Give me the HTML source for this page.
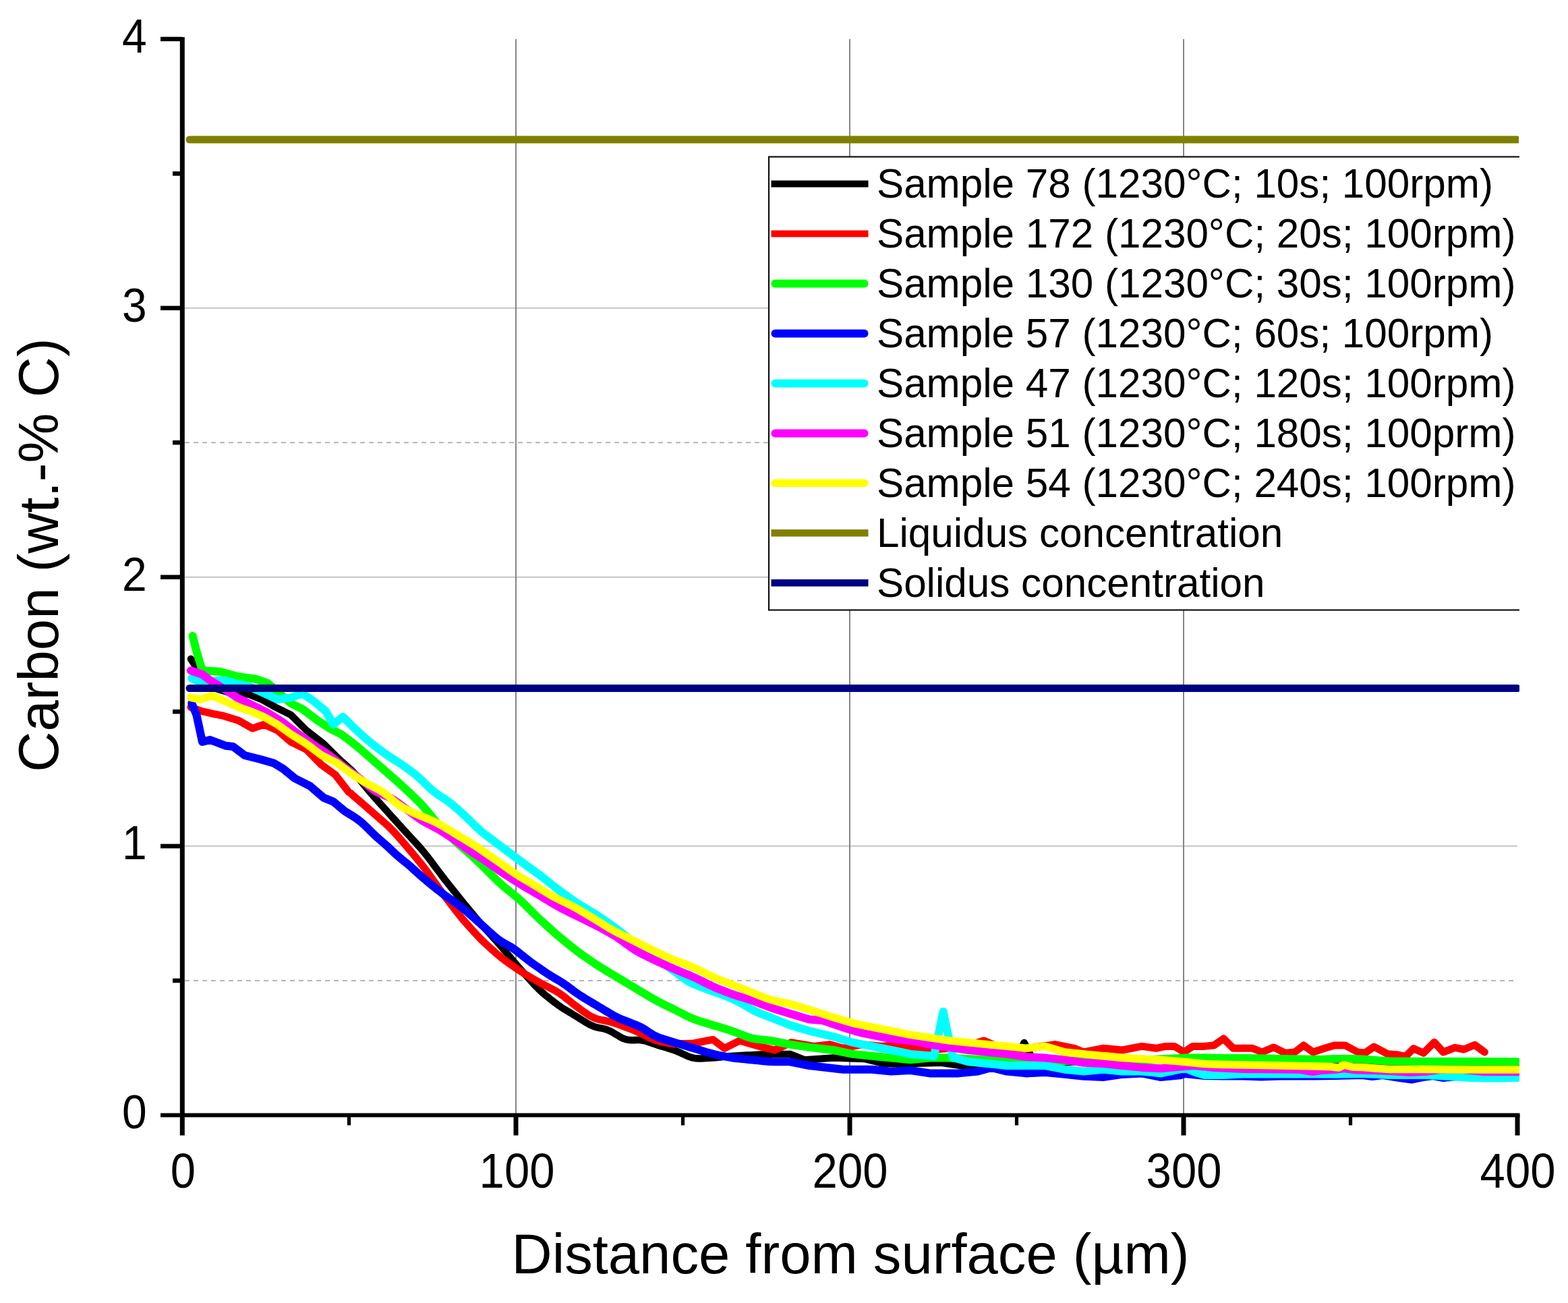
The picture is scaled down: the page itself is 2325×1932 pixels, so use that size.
<!DOCTYPE html>
<html><head><meta charset="utf-8"><title>Carbon profile</title>
<style>
html,body{margin:0;padding:0;background:#fff;}
svg{display:block;}
text{font-family:"Liberation Sans",Arial,sans-serif;fill:#000;}
</style></head><body>
<svg width="2325" height="1932" viewBox="0 0 2325 1932">
<rect width="2325" height="1932" fill="#fff"/>

<g fill="none">
<line x1="274" y1="1454.0" x2="2250" y2="1454.0" stroke="#b4b4b4" stroke-width="2" stroke-dasharray="7 6"/>
<line x1="274" y1="656.2" x2="2250" y2="656.2" stroke="#b4b4b4" stroke-width="2" stroke-dasharray="7 6"/>
<line x1="274" y1="1254.6" x2="2250" y2="1254.6" stroke="#c4c4c4" stroke-width="2"/>
<line x1="274" y1="855.7" x2="2250" y2="855.7" stroke="#c4c4c4" stroke-width="2"/>
<line x1="274" y1="456.8" x2="2250" y2="456.8" stroke="#c4c4c4" stroke-width="2"/>
<line x1="765.0" y1="58" x2="765.0" y2="1651" stroke="#858585" stroke-width="2"/>
<line x1="1260.0" y1="58" x2="1260.0" y2="1651" stroke="#858585" stroke-width="2"/>
<line x1="1755.0" y1="58" x2="1755.0" y2="1651" stroke="#858585" stroke-width="2"/>
</g>
<line x1="281" y1="207" x2="2250" y2="207" stroke="#808000" stroke-width="11" stroke-linecap="round"/>
<rect x="2252" y="200" width="8" height="15" fill="#fff"/>
<rect x="1140" y="232.5" width="1120" height="672" fill="#fff" stroke="#111" stroke-width="2.2"/>
<rect x="1143.5" y="267.60" width="144" height="10" rx="0" fill="#000000"/>
<text x="1300" y="292.8" font-size="60.2">Sample 78 (1230°C; 10s; 100rpm)</text>
<rect x="1143.5" y="341.56" width="144" height="10" rx="0" fill="#ff0000"/>
<text x="1300" y="366.8" font-size="60.2">Sample 172 (1230°C; 20s; 100rpm)</text>
<rect x="1143.5" y="414.52" width="144" height="12" rx="6.0" fill="#00ff00"/>
<text x="1300" y="440.7" font-size="60.2">Sample 130 (1230°C; 30s; 100rpm)</text>
<rect x="1143.5" y="488.48" width="144" height="12" rx="6.0" fill="#0000ff"/>
<text x="1300" y="514.7" font-size="60.2">Sample 57 (1230°C; 60s; 100rpm)</text>
<rect x="1143.5" y="562.44" width="144" height="12" rx="6.0" fill="#00ffff"/>
<text x="1300" y="588.6" font-size="60.2">Sample 47 (1230°C; 120s; 100rpm)</text>
<rect x="1143.5" y="636.40" width="144" height="12" rx="6.0" fill="#ff00ff"/>
<text x="1300" y="662.6" font-size="60.2">Sample 51 (1230°C; 180s; 100prm)</text>
<rect x="1143.5" y="710.61" width="144" height="11.5" rx="5.75" fill="#ffff00"/>
<text x="1300" y="736.6" font-size="60.2">Sample 54 (1230°C; 240s; 100rpm)</text>
<rect x="1143.5" y="785.07" width="144" height="10.5" rx="0" fill="#808000"/>
<text x="1300" y="810.5" font-size="60.2">Liquidus concentration</text>
<rect x="1143.5" y="859.03" width="144" height="10.5" rx="0" fill="#000080"/>
<text x="1300" y="884.5" font-size="60.2">Solidus concentration</text>
<g fill="none" stroke-linejoin="round" stroke-linecap="round">
<polyline points="282.9,977.0 288.6,985.7 297.0,997.0 317.0,1020.0 345.7,1028.6 368.6,1029.5 388.6,1037.5 408.6,1048.6 431.4,1060.0 454.3,1082.9 480.0,1102.9 502.9,1125.7 520.0,1140.9 524.0,1145.0 528.0,1149.5 532.0,1154.3 536.0,1159.3 540.0,1164.2 544.0,1169.0 548.0,1173.8 552.0,1178.4 556.0,1182.9 560.0,1187.4 564.0,1191.9 568.0,1196.3 572.0,1200.8 576.0,1205.2 580.0,1209.7 584.0,1214.1 588.0,1218.6 592.0,1223.0 596.0,1227.4 600.0,1231.8 604.0,1236.2 608.0,1240.5 612.0,1244.9 616.0,1249.2 620.0,1253.6 624.0,1258.1 628.0,1262.8 632.0,1267.7 636.0,1272.9 640.0,1278.2 644.0,1283.6 648.0,1288.9 652.0,1294.2 656.0,1299.5 660.0,1304.7 664.0,1309.8 668.0,1314.8 672.0,1319.8 676.0,1324.8 680.0,1329.8 684.0,1334.8 688.0,1339.7 692.0,1344.6 696.0,1349.4 700.0,1354.2 704.0,1359.0 708.0,1363.8 712.0,1368.5 716.0,1373.1 720.0,1377.6 724.0,1382.1 728.0,1386.5 732.0,1390.9 736.0,1395.3 740.0,1399.8 744.0,1404.4 748.0,1409.1 752.0,1413.8 756.0,1418.6 760.0,1423.4 764.0,1428.1 768.0,1432.8 772.0,1437.5 776.0,1442.0 780.0,1446.5 784.0,1450.9 788.0,1455.3 792.0,1459.8 796.0,1463.9 800.0,1467.9 804.0,1471.5 808.0,1475.0 812.0,1478.2 816.0,1481.4 820.0,1484.5 824.0,1487.6 828.0,1490.5 832.0,1493.3 836.0,1495.9 840.0,1498.3 844.0,1500.7 848.0,1503.1 852.0,1505.6 856.0,1508.0 860.0,1510.5 864.0,1513.0 868.0,1515.4 872.0,1517.9 876.0,1520.0 880.0,1521.7 884.0,1523.1 888.0,1524.0 892.0,1524.6 896.0,1525.5 900.0,1526.8 904.0,1528.5 908.0,1530.5 912.0,1532.9 916.0,1535.3 920.0,1537.7 924.0,1539.7 928.0,1541.1 932.0,1542.0 936.0,1542.3 940.0,1542.2 944.0,1541.9 948.0,1542.1 952.0,1542.5 956.0,1543.3 960.0,1544.5 964.0,1545.9 968.0,1547.3 972.0,1548.6 976.0,1549.9 980.0,1551.1 984.0,1552.3 988.0,1553.5 992.0,1554.7 996.0,1556.0 1000.0,1557.4 1004.0,1558.9 1008.0,1560.6 1012.0,1562.5 1016.0,1564.3 1020.0,1566.1 1024.0,1567.6 1028.0,1568.6 1032.0,1569.3 1036.0,1569.6 1040.0,1569.4 1044.0,1569.2 1048.0,1569.0 1052.0,1568.8 1056.0,1568.5 1060.0,1568.2 1064.0,1567.9 1068.0,1567.5 1072.0,1567.1 1076.0,1566.7 1080.0,1566.3 1084.0,1566.0 1088.0,1565.7 1092.0,1565.4 1096.0,1565.2 1100.0,1565.0 1104.0,1564.8 1108.0,1564.6 1112.0,1564.4 1116.0,1564.2 1120.0,1564.0 1124.0,1563.8 1128.0,1563.6 1132.0,1563.4 1136.0,1563.2 1140.0,1563.1 1144.0,1563.0 1148.0,1562.9 1171.4,1562.9 1192.9,1571.4 1235.7,1568.6 1281.4,1570.0 1310.0,1577.0 1350.0,1577.0 1395.7,1575.7 1424.3,1580.0 1470.0,1578.0 1505.0,1572.0 1518.6,1546.0 1532.0,1572.0 1580.0,1575.0 1650.0,1572.0 1720.0,1570.0 1783.0,1571.0 1850.0,1573.0 1950.0,1575.0 2044.0,1575.0 2067.0,1577.0 2107.0,1576.5 2144.0,1576.5 2200.0,1576.0 2250.0,1576.0" stroke="#000" stroke-width="10.5"/>
<polyline points="282.9,1048.6 297.0,1054.0 317.0,1058.6 331.4,1061.4 354.3,1068.6 374.3,1080.0 391.4,1074.3 411.4,1082.9 431.4,1100.0 454.3,1111.4 477.0,1134.3 497.0,1148.6 517.0,1174.3 520.0,1176.2 524.0,1180.0 528.0,1183.4 532.0,1186.8 536.0,1190.2 540.0,1193.6 544.0,1197.1 548.0,1200.7 552.0,1204.2 556.0,1207.7 560.0,1211.2 564.0,1214.7 568.0,1218.2 572.0,1221.6 576.0,1225.3 580.0,1229.2 584.0,1233.4 588.0,1237.7 592.0,1242.3 596.0,1246.9 600.0,1251.5 604.0,1256.2 608.0,1261.0 612.0,1265.8 616.0,1270.6 620.0,1275.4 624.0,1280.3 628.0,1285.4 632.0,1290.7 636.0,1296.1 640.0,1301.8 644.0,1307.4 648.0,1313.0 652.0,1318.6 656.0,1324.1 660.0,1329.5 664.0,1334.8 668.0,1340.0 672.0,1345.1 676.0,1350.3 680.0,1355.4 684.0,1360.4 688.0,1365.1 692.0,1369.7 696.0,1374.2 700.0,1378.6 704.0,1383.0 708.0,1387.3 712.0,1391.5 716.0,1395.5 720.0,1399.3 724.0,1403.0 728.0,1406.6 732.0,1410.2 736.0,1413.8 740.0,1417.1 744.0,1420.4 748.0,1423.5 752.0,1426.4 756.0,1429.2 760.0,1432.0 764.0,1434.8 768.0,1437.5 772.0,1440.1 776.0,1442.7 780.0,1445.1 784.0,1447.5 788.0,1449.9 792.0,1452.2 796.0,1454.5 800.0,1456.8 804.0,1458.9 808.0,1461.0 812.0,1463.0 816.0,1465.1 820.0,1467.1 824.0,1469.3 828.0,1471.8 832.0,1474.5 836.0,1477.4 840.0,1480.6 844.0,1483.8 848.0,1487.0 852.0,1490.2 856.0,1493.2 860.0,1496.2 864.0,1499.1 868.0,1501.8 872.0,1504.5 876.0,1506.9 880.0,1508.8 884.0,1510.4 888.0,1511.6 892.0,1512.4 896.0,1513.2 900.0,1514.0 904.0,1514.9 908.0,1516.0 912.0,1517.2 916.0,1518.5 920.0,1520.0 924.0,1521.5 928.0,1523.0 932.0,1524.5 936.0,1526.0 940.0,1527.7 944.0,1529.4 948.0,1531.2 952.0,1533.2 956.0,1535.2 960.0,1537.2 964.0,1539.2 968.0,1540.9 972.0,1542.4 976.0,1543.6 980.0,1544.6 984.0,1545.4 988.0,1546.2 992.0,1547.0 996.0,1547.6 1000.0,1548.0 1028.6,1547.0 1057.0,1541.4 1074.3,1554.3 1097.0,1542.9 1125.7,1551.4 1148.6,1557.0 1172.9,1545.7 1207.0,1551.4 1230.0,1548.6 1250.0,1554.3 1278.6,1548.6 1307.0,1551.4 1335.7,1548.6 1372.9,1557.0 1400.0,1555.0 1430.0,1552.0 1458.6,1542.9 1480.0,1552.0 1520.0,1555.0 1564.3,1548.6 1592.9,1554.3 1607.0,1560.0 1635.7,1554.3 1664.3,1557.0 1692.9,1551.4 1714.3,1554.3 1728.6,1551.4 1741.4,1551.4 1755.7,1560.0 1768.6,1551.4 1785.7,1551.4 1800.0,1550.0 1814.3,1540.0 1828.6,1554.3 1842.9,1554.3 1857.0,1554.3 1871.4,1560.0 1888.6,1552.9 1905.7,1561.4 1920.0,1560.0 1932.9,1550.0 1947.0,1560.0 1964.3,1554.3 1978.6,1550.0 1994.7,1550.0 2013.3,1560.0 2024.0,1561.3 2037.3,1552.0 2057.3,1562.7 2073.3,1564.0 2084.0,1566.7 2096.0,1554.7 2110.7,1561.3 2126.7,1545.3 2140.0,1560.0 2157.3,1553.3 2170.7,1556.0 2186.7,1549.3 2201.3,1560.0" stroke="#f00" stroke-width="11"/>
<polyline points="285.7,942.9 291.4,965.7 300.0,994.3 325.7,995.7 351.4,1002.9 380.0,1007.0 397.0,1012.9 414.3,1028.0 431.4,1042.9 448.6,1051.4 471.4,1068.6 488.6,1080.0 505.7,1088.6 520.0,1099.3 524.0,1102.4 528.0,1105.5 532.0,1108.8 536.0,1112.2 540.0,1115.7 544.0,1119.2 548.0,1122.7 552.0,1126.2 556.0,1129.7 560.0,1133.2 564.0,1136.7 568.0,1140.2 572.0,1143.7 576.0,1147.2 580.0,1150.7 584.0,1154.2 588.0,1157.8 592.0,1161.3 596.0,1165.0 600.0,1168.6 604.0,1172.4 608.0,1176.2 612.0,1180.0 616.0,1183.8 620.0,1187.7 624.0,1191.9 628.0,1196.2 632.0,1200.8 636.0,1205.6 640.0,1210.5 644.0,1215.5 648.0,1220.4 652.0,1225.1 656.0,1229.5 660.0,1233.6 664.0,1237.5 668.0,1241.1 672.0,1244.6 676.0,1248.1 680.0,1251.7 684.0,1255.2 688.0,1258.7 692.0,1262.2 696.0,1265.8 700.0,1269.3 704.0,1273.0 708.0,1276.8 712.0,1280.6 716.0,1284.6 720.0,1288.6 724.0,1292.6 728.0,1296.5 732.0,1300.5 736.0,1304.5 740.0,1308.3 744.0,1311.9 748.0,1315.4 752.0,1318.7 756.0,1321.9 760.0,1325.1 764.0,1328.4 768.0,1331.8 772.0,1335.3 776.0,1339.0 780.0,1342.9 784.0,1346.9 788.0,1350.9 792.0,1354.9 796.0,1358.8 800.0,1362.7 804.0,1366.4 808.0,1370.1 812.0,1373.7 816.0,1377.3 820.0,1380.9 824.0,1384.4 828.0,1387.9 832.0,1391.2 836.0,1394.5 840.0,1397.8 844.0,1401.0 848.0,1404.2 852.0,1407.3 856.0,1410.4 860.0,1413.4 864.0,1416.3 868.0,1419.1 872.0,1421.9 876.0,1424.6 880.0,1427.4 884.0,1430.1 888.0,1432.6 892.0,1435.2 896.0,1437.6 900.0,1440.0 904.0,1442.4 908.0,1444.8 912.0,1447.2 916.0,1449.6 920.0,1452.0 924.0,1454.4 928.0,1456.8 932.0,1459.2 936.0,1461.6 940.0,1464.0 944.0,1466.4 948.0,1468.8 952.0,1471.2 956.0,1473.6 960.0,1476.0 964.0,1478.4 968.0,1480.7 972.0,1483.0 976.0,1485.1 980.0,1487.1 984.0,1489.1 988.0,1491.1 992.0,1493.1 996.0,1495.0 1000.0,1497.0 1004.0,1499.0 1008.0,1501.0 1012.0,1503.0 1016.0,1505.1 1020.0,1507.1 1024.0,1508.9 1028.0,1510.7 1032.0,1512.2 1036.0,1513.6 1040.0,1514.9 1044.0,1516.1 1048.0,1517.3 1052.0,1518.5 1056.0,1519.7 1060.0,1520.9 1064.0,1522.1 1068.0,1523.3 1072.0,1524.5 1076.0,1525.7 1080.0,1526.9 1084.0,1528.3 1088.0,1529.7 1092.0,1531.1 1096.0,1532.7 1100.0,1534.3 1104.0,1535.9 1108.0,1537.4 1112.0,1538.6 1116.0,1539.7 1120.0,1540.4 1124.0,1541.0 1128.0,1541.4 1132.0,1541.8 1136.0,1542.2 1140.0,1542.7 1144.0,1543.3 1148.0,1544.0 1171.4,1548.6 1200.0,1552.9 1235.7,1557.0 1264.3,1562.9 1292.9,1565.7 1321.4,1568.6 1350.0,1571.4 1378.6,1568.6 1407.0,1568.6 1450.0,1571.0 1500.0,1572.0 1560.0,1573.0 1620.0,1573.0 1700.0,1572.0 1757.0,1568.6 1786.0,1568.6 1814.0,1569.0 1843.0,1569.0 1880.0,1569.5 1900.0,1570.0 1930.0,1570.5 1957.0,1571.0 1980.0,1570.0 2000.0,1570.0 2020.0,1570.5 2060.0,1573.5 2113.0,1574.0 2150.0,1574.0 2180.0,1574.0 2250.7,1574.5" stroke="#0f0" stroke-width="12"/>
<polyline points="284.3,1042.9 291.4,1060.0 300.0,1100.0 311.4,1097.0 334.3,1105.7 345.7,1107.0 362.9,1120.0 385.7,1125.7 405.7,1131.4 420.0,1140.0 437.0,1154.0 460.0,1165.7 480.0,1182.9 494.3,1188.6 511.4,1202.9 520.0,1208.2 524.0,1210.7 528.0,1213.3 532.0,1216.2 536.0,1219.4 540.0,1223.0 544.0,1226.8 548.0,1230.9 552.0,1234.8 556.0,1238.6 560.0,1242.3 564.0,1245.7 568.0,1249.2 572.0,1252.7 576.0,1256.3 580.0,1260.1 584.0,1264.0 588.0,1267.6 592.0,1271.0 596.0,1274.4 600.0,1277.6 604.0,1280.8 608.0,1284.2 612.0,1287.9 616.0,1291.5 620.0,1295.1 624.0,1298.7 628.0,1302.1 632.0,1305.5 636.0,1308.8 640.0,1312.1 644.0,1315.3 648.0,1318.5 652.0,1321.6 656.0,1324.7 660.0,1327.7 664.0,1330.6 668.0,1333.4 672.0,1336.2 676.0,1338.9 680.0,1341.8 684.0,1344.9 688.0,1348.1 692.0,1351.4 696.0,1355.0 700.0,1358.6 704.0,1362.1 708.0,1365.7 712.0,1369.3 716.0,1372.9 720.0,1376.5 724.0,1380.1 728.0,1383.7 732.0,1387.2 736.0,1390.7 740.0,1393.8 744.0,1396.5 748.0,1398.9 752.0,1401.0 756.0,1403.2 760.0,1405.7 764.0,1408.5 768.0,1411.6 772.0,1414.8 776.0,1418.0 780.0,1421.1 784.0,1424.2 788.0,1427.2 792.0,1430.1 796.0,1432.9 800.0,1435.7 804.0,1438.5 808.0,1441.2 812.0,1443.9 816.0,1446.4 820.0,1448.9 824.0,1451.2 828.0,1453.5 832.0,1456.0 836.0,1458.6 840.0,1461.4 844.0,1464.4 848.0,1467.4 852.0,1470.4 856.0,1473.2 860.0,1475.9 864.0,1478.4 868.0,1480.9 872.0,1483.2 876.0,1485.6 880.0,1488.0 884.0,1490.4 888.0,1492.8 892.0,1495.2 896.0,1497.6 900.0,1500.0 904.0,1502.4 908.0,1504.7 912.0,1506.9 916.0,1508.9 920.0,1510.7 924.0,1512.3 928.0,1513.9 932.0,1515.4 936.0,1517.0 940.0,1518.5 944.0,1520.1 948.0,1521.9 952.0,1524.0 956.0,1526.4 960.0,1529.0 964.0,1531.7 968.0,1534.2 972.0,1536.3 976.0,1538.1 980.0,1539.6 984.0,1540.8 988.0,1542.0 992.0,1543.3 996.0,1544.5 1000.0,1545.7 1004.0,1546.9 1008.0,1548.1 1012.0,1549.3 1016.0,1550.5 1020.0,1551.7 1024.0,1552.9 1028.0,1554.1 1032.0,1555.3 1036.0,1556.5 1040.0,1557.8 1044.0,1559.0 1048.0,1560.2 1052.0,1561.3 1056.0,1562.4 1060.0,1563.4 1064.0,1564.3 1068.0,1565.1 1072.0,1565.9 1076.0,1566.7 1080.0,1567.4 1084.0,1568.1 1088.0,1568.7 1092.0,1569.2 1096.0,1569.6 1100.0,1570.0 1104.0,1570.4 1108.0,1570.8 1112.0,1571.2 1116.0,1571.6 1120.0,1572.0 1124.0,1572.4 1128.0,1572.8 1132.0,1573.2 1136.0,1573.6 1140.0,1573.9 1144.0,1574.1 1148.0,1574.2 1171.4,1574.3 1200.0,1580.0 1250.0,1585.7 1292.9,1585.7 1321.4,1588.6 1350.0,1587.0 1378.6,1591.4 1421.4,1591.4 1450.0,1588.6 1470.0,1582.9 1492.9,1588.6 1521.4,1591.4 1550.0,1590.0 1578.6,1592.9 1607.0,1595.7 1635.7,1597.0 1664.3,1592.9 1692.9,1591.4 1721.4,1597.0 1750.0,1594.3 1757.0,1592.0 1786.0,1595.0 1814.0,1595.5 1843.0,1595.5 1870.0,1596.5 1900.0,1595.5 1950.0,1595.5 1980.0,1595.0 2020.0,1594.0 2035.0,1596.0 2050.0,1594.0 2075.0,1598.0 2093.0,1600.5 2110.0,1597.0 2125.0,1595.0 2140.0,1598.0 2160.0,1596.0 2190.0,1594.5 2250.0,1595.0" stroke="#00f" stroke-width="12"/>
<polyline points="284.3,1005.7 297.0,1011.4 331.4,1008.6 370.0,1018.0 411.4,1037.0 431.4,1034.3 448.6,1028.6 465.7,1040.0 482.9,1054.3 494.3,1074.3 508.6,1062.9 520.0,1074.3 524.0,1078.2 528.0,1082.0 532.0,1085.8 536.0,1089.4 540.0,1092.9 544.0,1096.4 548.0,1099.8 552.0,1103.1 556.0,1106.2 560.0,1109.3 564.0,1112.3 568.0,1115.3 572.0,1118.1 576.0,1120.9 580.0,1123.5 584.0,1126.1 588.0,1128.6 592.0,1131.2 596.0,1133.9 600.0,1136.7 604.0,1139.5 608.0,1142.5 612.0,1145.5 616.0,1148.6 620.0,1152.0 624.0,1155.6 628.0,1159.4 632.0,1163.4 636.0,1167.3 640.0,1170.9 644.0,1174.3 648.0,1177.3 652.0,1180.0 656.0,1182.5 660.0,1185.1 664.0,1188.0 668.0,1191.0 672.0,1194.2 676.0,1197.6 680.0,1201.1 684.0,1204.7 688.0,1208.3 692.0,1212.1 696.0,1216.0 700.0,1220.0 704.0,1224.0 708.0,1227.7 712.0,1231.3 716.0,1234.7 720.0,1237.9 724.0,1240.9 728.0,1243.9 732.0,1246.9 736.0,1249.9 740.0,1252.9 744.0,1255.9 748.0,1258.9 752.0,1261.9 756.0,1264.9 760.0,1267.9 764.0,1270.9 768.0,1273.9 772.0,1276.9 776.0,1279.9 780.0,1282.8 784.0,1285.7 788.0,1288.5 792.0,1291.4 796.0,1294.3 800.0,1297.2 804.0,1300.3 808.0,1303.4 812.0,1306.7 816.0,1309.9 820.0,1313.1 824.0,1316.2 828.0,1319.3 832.0,1322.3 836.0,1325.2 840.0,1328.0 844.0,1330.8 848.0,1333.7 852.0,1336.4 856.0,1339.1 860.0,1341.6 864.0,1344.1 868.0,1346.5 872.0,1348.9 876.0,1351.3 880.0,1353.7 884.0,1356.2 888.0,1358.8 892.0,1361.4 896.0,1364.2 900.0,1367.0 904.0,1369.8 908.0,1372.6 912.0,1375.5 916.0,1378.5 920.0,1381.6 924.0,1384.8 928.0,1388.0 932.0,1391.2 936.0,1394.4 940.0,1397.5 944.0,1400.6 948.0,1403.5 952.0,1406.4 956.0,1409.2 960.0,1412.0 964.0,1414.8 968.0,1417.6 972.0,1420.4 976.0,1423.2 980.0,1426.0 984.0,1428.8 988.0,1431.6 992.0,1434.4 996.0,1437.3 1000.0,1440.2 1004.0,1443.2 1008.0,1446.3 1012.0,1449.4 1016.0,1452.2 1020.0,1454.8 1024.0,1457.0 1028.0,1458.9 1032.0,1460.4 1036.0,1462.0 1040.0,1463.6 1044.0,1465.2 1048.0,1466.7 1052.0,1468.2 1056.0,1469.6 1060.0,1471.0 1064.0,1472.4 1068.0,1473.8 1072.0,1475.3 1076.0,1476.9 1080.0,1478.5 1084.0,1480.3 1088.0,1482.1 1092.0,1484.0 1096.0,1486.0 1100.0,1488.1 1104.0,1490.4 1108.0,1492.7 1112.0,1495.1 1116.0,1497.4 1120.0,1499.4 1124.0,1501.3 1128.0,1503.0 1132.0,1504.5 1136.0,1506.0 1140.0,1507.5 1144.0,1509.1 1148.0,1510.7 1171.4,1520.0 1200.0,1528.6 1235.7,1537.0 1264.3,1545.7 1292.9,1551.4 1321.4,1557.0 1350.0,1562.9 1385.0,1566.0 1398.6,1500.0 1413.0,1568.0 1435.7,1574.3 1464.3,1577.0 1492.9,1580.0 1521.4,1580.0 1550.0,1580.0 1578.6,1585.7 1607.0,1588.6 1635.7,1585.7 1664.3,1588.6 1692.9,1588.6 1721.4,1591.4 1757.0,1584.0 1770.0,1589.0 1786.0,1594.0 1814.0,1594.0 1843.0,1592.5 1900.0,1592.5 1950.0,1592.5 1980.0,1592.7 2020.0,1592.0 2060.0,1594.0 2113.0,1594.0 2150.0,1596.0 2180.0,1598.0 2215.0,1598.5 2250.7,1598.0" stroke="#0ff" stroke-width="12"/>
<polyline points="282.9,994.3 300.0,1000.0 311.4,1008.6 330.0,1020.0 351.4,1034.3 374.3,1045.7 397.0,1057.0 420.0,1071.4 442.9,1089.0 465.7,1105.0 488.6,1120.0 511.4,1138.0 520.0,1144.4 524.0,1147.4 528.0,1150.4 532.0,1153.5 536.0,1156.6 540.0,1159.9 544.0,1163.2 548.0,1166.6 552.0,1169.8 556.0,1172.5 560.0,1174.9 564.0,1176.8 568.0,1178.4 572.0,1179.9 576.0,1181.7 580.0,1183.8 584.0,1186.2 588.0,1188.9 592.0,1191.9 596.0,1194.8 600.0,1197.8 604.0,1200.8 608.0,1203.8 612.0,1206.8 616.0,1209.8 620.0,1212.6 624.0,1215.3 628.0,1217.8 632.0,1220.1 636.0,1222.2 640.0,1224.2 644.0,1226.4 648.0,1228.6 652.0,1230.9 656.0,1233.3 660.0,1235.8 664.0,1238.3 668.0,1240.9 672.0,1243.6 676.0,1246.4 680.0,1249.3 684.0,1252.3 688.0,1255.3 692.0,1258.1 696.0,1260.9 700.0,1263.5 704.0,1266.1 708.0,1268.6 712.0,1271.2 716.0,1273.8 720.0,1276.5 724.0,1279.3 728.0,1282.1 732.0,1284.9 736.0,1287.7 740.0,1290.5 744.0,1293.2 748.0,1295.9 752.0,1298.5 756.0,1301.0 760.0,1303.6 764.0,1306.2 768.0,1308.7 772.0,1311.2 776.0,1313.6 780.0,1316.0 784.0,1318.3 788.0,1320.6 792.0,1323.0 796.0,1325.3 800.0,1327.7 804.0,1330.1 808.0,1332.5 812.0,1334.9 816.0,1337.3 820.0,1339.8 824.0,1342.1 828.0,1344.4 832.0,1346.6 836.0,1348.6 840.0,1350.6 844.0,1352.6 848.0,1354.6 852.0,1356.5 856.0,1358.5 860.0,1360.5 864.0,1362.4 868.0,1364.4 872.0,1366.3 876.0,1368.3 880.0,1370.3 884.0,1372.3 888.0,1374.4 892.0,1376.5 896.0,1378.8 900.0,1381.0 904.0,1383.2 908.0,1385.5 912.0,1388.0 916.0,1390.5 920.0,1393.3 924.0,1396.1 928.0,1399.1 932.0,1402.0 936.0,1404.9 940.0,1407.6 944.0,1410.1 948.0,1412.4 952.0,1414.5 956.0,1416.4 960.0,1418.4 964.0,1420.4 968.0,1422.3 972.0,1424.2 976.0,1426.1 980.0,1427.9 984.0,1429.7 988.0,1431.5 992.0,1433.4 996.0,1435.1 1000.0,1436.9 1004.0,1438.6 1008.0,1440.2 1012.0,1441.9 1016.0,1443.5 1020.0,1445.1 1024.0,1446.8 1028.0,1448.6 1032.0,1450.4 1036.0,1452.3 1040.0,1454.3 1044.0,1456.4 1048.0,1458.4 1052.0,1460.3 1056.0,1462.2 1060.0,1464.0 1064.0,1465.7 1068.0,1467.3 1072.0,1468.9 1076.0,1470.4 1080.0,1472.0 1084.0,1473.5 1088.0,1474.8 1092.0,1476.2 1096.0,1477.4 1100.0,1478.6 1104.0,1479.8 1108.0,1481.0 1112.0,1482.4 1116.0,1483.7 1120.0,1485.2 1124.0,1486.8 1128.0,1488.4 1132.0,1490.0 1136.0,1491.5 1140.0,1493.0 1144.0,1494.4 1148.0,1495.8 1171.4,1502.9 1200.0,1511.4 1220.0,1513.0 1248.6,1522.9 1277.0,1531.4 1320.0,1540.0 1350.0,1542.9 1378.6,1548.6 1407.0,1552.9 1435.7,1557.0 1464.3,1560.0 1492.9,1562.9 1521.4,1567.0 1550.0,1568.6 1578.6,1571.4 1607.0,1575.7 1635.7,1577.0 1664.3,1580.0 1692.9,1582.9 1721.4,1584.3 1757.0,1581.0 1771.0,1580.0 1800.0,1583.0 1843.0,1585.0 1900.0,1585.5 1929.0,1586.0 1946.0,1589.0 1960.0,1587.0 1980.0,1586.0 1993.0,1584.0 2010.0,1586.5 2030.0,1587.0 2060.0,1588.0 2090.0,1590.0 2113.0,1589.0 2135.0,1586.0 2170.0,1586.0 2200.0,1589.0 2250.7,1589.3" stroke="#f0f" stroke-width="12"/>
<polyline points="282.9,1034.3 297.0,1037.0 314.3,1031.4 334.3,1040.0 354.3,1048.6 374.3,1055.7 391.4,1062.9 411.4,1074.3 431.4,1088.6 454.3,1102.9 477.0,1120.0 500.0,1131.4 520.0,1146.3 524.0,1149.0 528.0,1151.7 532.0,1154.3 536.0,1156.8 540.0,1159.3 544.0,1161.6 548.0,1163.9 552.0,1166.0 556.0,1168.0 560.0,1170.0 564.0,1172.3 568.0,1174.8 572.0,1177.7 576.0,1180.8 580.0,1184.3 584.0,1187.8 588.0,1190.9 592.0,1193.8 596.0,1196.4 600.0,1198.7 604.0,1200.7 608.0,1202.7 612.0,1204.7 616.0,1206.5 620.0,1208.2 624.0,1209.8 628.0,1211.4 632.0,1213.1 636.0,1214.7 640.0,1216.5 644.0,1218.3 648.0,1220.3 652.0,1222.4 656.0,1224.7 660.0,1227.1 664.0,1229.5 668.0,1231.9 672.0,1234.4 676.0,1236.8 680.0,1239.2 684.0,1241.7 688.0,1244.1 692.0,1246.5 696.0,1249.0 700.0,1251.4 704.0,1254.0 708.0,1256.5 712.0,1259.2 716.0,1261.9 720.0,1264.7 724.0,1267.4 728.0,1270.2 732.0,1273.0 736.0,1275.8 740.0,1278.6 744.0,1281.4 748.0,1284.3 752.0,1287.1 756.0,1290.0 760.0,1292.7 764.0,1295.4 768.0,1298.0 772.0,1300.5 776.0,1302.9 780.0,1305.2 784.0,1307.6 788.0,1310.0 792.0,1312.4 796.0,1314.8 800.0,1317.3 804.0,1319.7 808.0,1322.1 812.0,1324.5 816.0,1326.9 820.0,1329.1 824.0,1331.3 828.0,1333.4 832.0,1335.3 836.0,1337.2 840.0,1339.2 844.0,1341.1 848.0,1343.2 852.0,1345.3 856.0,1347.6 860.0,1349.9 864.0,1352.2 868.0,1354.6 872.0,1356.9 876.0,1359.3 880.0,1361.7 884.0,1364.2 888.0,1366.7 892.0,1369.2 896.0,1371.7 900.0,1374.2 904.0,1376.6 908.0,1378.8 912.0,1381.0 916.0,1383.1 920.0,1385.1 924.0,1387.0 928.0,1389.0 932.0,1391.0 936.0,1393.0 940.0,1395.0 944.0,1397.0 948.0,1399.0 952.0,1401.0 956.0,1403.0 960.0,1405.0 964.0,1407.0 968.0,1408.9 972.0,1410.9 976.0,1412.8 980.0,1414.7 984.0,1416.7 988.0,1418.5 992.0,1420.3 996.0,1422.0 1000.0,1423.6 1004.0,1425.1 1008.0,1426.6 1012.0,1428.0 1016.0,1429.5 1020.0,1431.0 1024.0,1432.6 1028.0,1434.3 1032.0,1436.1 1036.0,1438.0 1040.0,1440.0 1044.0,1442.1 1048.0,1444.1 1052.0,1446.0 1056.0,1447.9 1060.0,1449.7 1064.0,1451.4 1068.0,1453.0 1072.0,1454.6 1076.0,1456.1 1080.0,1457.7 1084.0,1459.3 1088.0,1460.9 1092.0,1462.5 1096.0,1464.1 1100.0,1465.7 1104.0,1467.3 1108.0,1468.9 1112.0,1470.5 1116.0,1472.1 1120.0,1473.7 1124.0,1475.3 1128.0,1476.9 1132.0,1478.5 1136.0,1480.1 1140.0,1481.5 1144.0,1482.7 1148.0,1483.8 1171.4,1488.6 1200.0,1497.0 1235.7,1508.6 1264.3,1517.0 1292.9,1522.9 1321.4,1528.6 1350.0,1534.3 1378.6,1538.6 1407.0,1542.9 1435.7,1545.7 1464.3,1548.6 1492.9,1551.4 1521.4,1554.3 1550.0,1551.4 1578.6,1560.0 1607.0,1562.9 1635.7,1565.7 1664.3,1568.6 1692.9,1570.0 1721.4,1571.4 1757.0,1574.5 1786.0,1577.5 1814.0,1578.5 1843.0,1579.0 1900.0,1580.0 1950.0,1581.0 1971.0,1581.5 1985.0,1583.0 1993.0,1579.0 2005.0,1582.0 2020.0,1582.5 2060.0,1585.5 2113.0,1585.5 2150.0,1586.0 2180.0,1586.0 2250.7,1586.0" stroke="#ff0" stroke-width="11.5"/>
</g>
<line x1="281" y1="1020.5" x2="2250" y2="1020.5" stroke="#000080" stroke-width="11" stroke-linecap="round"/>
<rect x="2253" y="0" width="80" height="1640" fill="#fff"/>
<g stroke="#000" fill="none">
<line x1="270.3" y1="55" x2="270.3" y2="1683.5" stroke-width="7"/>
<line x1="238" y1="1653.5" x2="2253.5" y2="1653.5" stroke-width="6"/>
<line x1="238" y1="1254.6" x2="270" y2="1254.6" stroke-width="6.5"/>
<line x1="238" y1="855.7" x2="270" y2="855.7" stroke-width="6.5"/>
<line x1="238" y1="456.8" x2="270" y2="456.8" stroke-width="6.5"/>
<line x1="238" y1="57.9" x2="270" y2="57.9" stroke-width="6.5"/>
<line x1="256" y1="1454.0" x2="270" y2="1454.0" stroke-width="6.5"/>
<line x1="256" y1="1055.2" x2="270" y2="1055.2" stroke-width="6.5"/>
<line x1="256" y1="656.2" x2="270" y2="656.2" stroke-width="6.5"/>
<line x1="256" y1="257.4" x2="270" y2="257.4" stroke-width="6.5"/>
<line x1="765.0" y1="1653" x2="765.0" y2="1683.5" stroke-width="7"/>
<line x1="1260.0" y1="1653" x2="1260.0" y2="1683.5" stroke-width="7"/>
<line x1="1755.0" y1="1653" x2="1755.0" y2="1683.5" stroke-width="7"/>
<line x1="2250.0" y1="1653" x2="2250.0" y2="1683.5" stroke-width="7"/>
<line x1="517.5" y1="1653" x2="517.5" y2="1668.5" stroke-width="5.2"/>
<line x1="1012.5" y1="1653" x2="1012.5" y2="1668.5" stroke-width="5.2"/>
<line x1="1507.5" y1="1653" x2="1507.5" y2="1668.5" stroke-width="5.2"/>
<line x1="2002.5" y1="1653" x2="2002.5" y2="1668.5" stroke-width="5.2"/>
</g>
<text transform="translate(217.8,1673.3) scale(1,1.075)" font-size="66" text-anchor="end">0</text>
<text transform="translate(217.8,1274.4) scale(1,1.075)" font-size="66" text-anchor="end">1</text>
<text transform="translate(217.8,875.5) scale(1,1.075)" font-size="66" text-anchor="end">2</text>
<text transform="translate(217.8,476.6) scale(1,1.075)" font-size="66" text-anchor="end">3</text>
<text transform="translate(217.8,77.7) scale(1,1.075)" font-size="66" text-anchor="end">4</text>
<text transform="translate(271.5,1761) scale(1,1.08)" font-size="67" text-anchor="middle">0</text>
<text transform="translate(766.5,1761) scale(1,1.08)" font-size="67" text-anchor="middle">100</text>
<text transform="translate(1260.5,1761) scale(1,1.08)" font-size="67" text-anchor="middle">200</text>
<text transform="translate(1755.5,1761) scale(1,1.08)" font-size="67" text-anchor="middle">300</text>
<text transform="translate(2250.5,1761) scale(1,1.08)" font-size="67" text-anchor="middle">400</text>
<text x="1261" y="1887.5" font-size="83.2" text-anchor="middle">Distance from surface (µm)</text>
<text transform="translate(85.7,823) rotate(-90)" font-size="83.3" text-anchor="middle">Carbon (wt.-% C)</text>
</svg>
</body></html>
